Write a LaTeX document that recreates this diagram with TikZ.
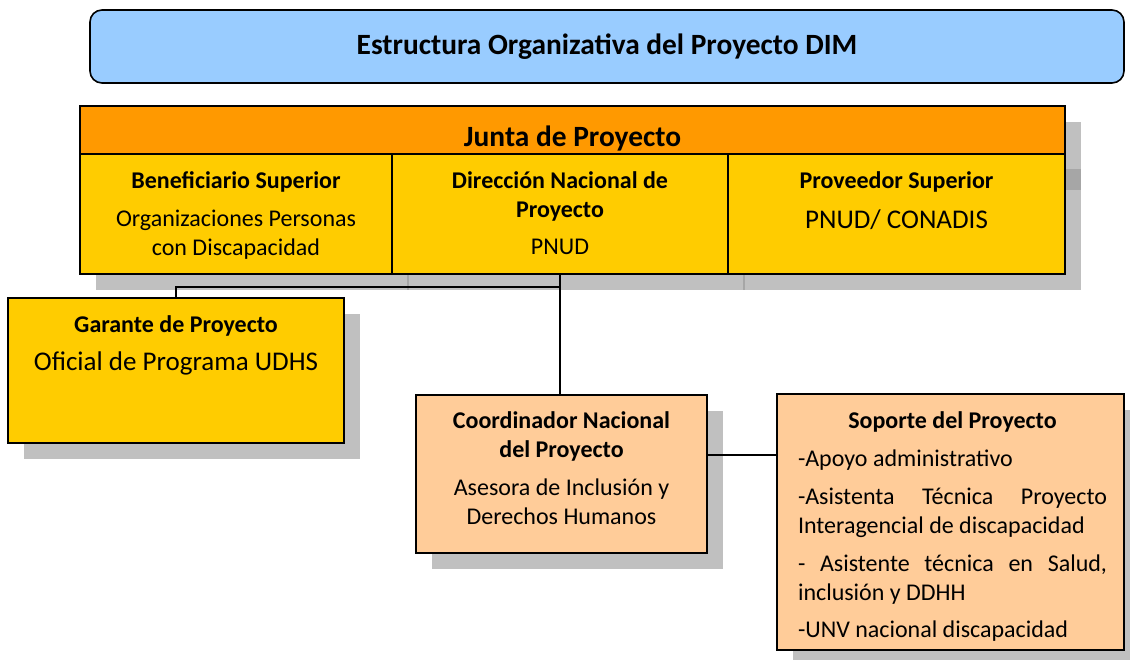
\documentclass[tikz,border=0pt]{standalone}
\usepackage{fontspec}
\setmainfont{Carlito}
\usepackage{xcolor}
\usepackage{tikz}
\usetikzlibrary{calc, positioning, backgrounds}

\definecolor{cieloazul}{HTML}{99CCFF}
\definecolor{naranja}{HTML}{FF9900}
\definecolor{amarillo}{HTML}{FFCC00}
\definecolor{durazno}{HTML}{FFCC99}
\definecolor{sombra}{HTML}{C0C0C0}
\definecolor{sombraosc}{HTML}{A6A6A6}

\newcommand{\normalt}{\fontsize{12}{14.5}\selectfont}
\newcommand{\grandet}{\fontsize{13.5}{16}\selectfont}
\newcommand{\titulot}{\fontsize{14.7}{17}\selectfont\bfseries}

\tikzset{
    caja/.style={draw, line width=0.8pt, anchor=north west, inner sep=0pt, outer sep=0pt},
    texto/.style={anchor=north, align=center, inner sep=0pt, font=\normalt},
    enlace/.style={draw, line width=0.8pt},
}

\begin{document}
\begin{tikzpicture}[x=0.5pt, y=-0.5pt]
    \useasboundingbox (0,0) rectangle (1130,659);

    % =================================================================
    % 1. CAJAS
    % =================================================================
    % Titulo general
    \node[caja, fill=cieloazul, rounded corners=6pt,
          minimum width=517pt, minimum height=36.5pt] (titulo) at (90,10) {};

    % Junta de Proyecto y sus tres celdas
    \node[caja, fill=naranja, minimum width=492.5pt, minimum height=24pt] (junta) at (80,106) {};
    \node[caja, fill=amarillo, minimum width=156pt, minimum height=60pt] (ben) at (junta.south west) {};
    \node[caja, fill=amarillo, minimum width=168pt, minimum height=60pt] (dir) at (ben.north east) {};
    \node[caja, fill=amarillo, minimum width=168.5pt, minimum height=60pt] (prov) at (dir.north east) {};

    % Garante, Coordinador y Soporte
    \node[caja, fill=amarillo, minimum width=168pt, minimum height=72.5pt] (garante) at (8,298) {};
    \node[caja, fill=durazno, minimum width=145.5pt, minimum height=79pt] (coord) at (416,395) {};
    \node[caja, fill=durazno, minimum width=173.5pt, minimum height=128pt] (soporte) at (777,394) {};

    % Sombras
    \begin{scope}[on background layer]
        \foreach \n in {junta, ben, dir, prov, garante, coord, soporte}
            \fill[sombra] ([shift={(16,16)}]\n.north west) rectangle ([shift={(16,16)}]\n.south east);
        \fill[sombraosc] ([shift={(0,15)}]prov.north east) rectangle ([shift={(16,36)}]prov.north east);
        \foreach \n in {ben, dir}
            \draw[sombraosc, line width=0.8pt] ([shift={(16,16)}]\n.north east) -- ([shift={(16,16)}]\n.south east);
    \end{scope}

    % =================================================================
    % 2. CONECTORES
    % =================================================================
    \coordinate (bus) at ($(dir.south)+(0,13)$);
    \draw[enlace] (dir.south) -- (dir.south |- coord.north);
    \draw[enlace] (garante.north) |- (bus);
    \coordinate (lazo) at ([shift={(0,-19)}]coord.east);
    \draw[enlace] (lazo) -- (lazo -| soporte.west);

    % =================================================================
    % 3. TEXTOS
    % =================================================================
    \node[font=\titulot] (titulotxt) at (titulo.center) {Estructura Organizativa del Proyecto DIM};
    \node[font=\titulot] (juntatxt) at ([shift={(0,8)}]junta.center) {Junta de Proyecto};

    \node[texto] (bentxt) at ([shift={(0,17)}]ben.north)
        {{\bfseries Beneficiario Superior}\\[4.5pt]
         Organizaciones Personas\\ con Discapacidad};
    \node[texto] (dirtxt) at ([shift={(0,17)}]dir.north)
        {{\bfseries Dirección Nacional de}\\ {\bfseries Proyecto}\\[4pt] PNUD};
    \node[texto] (provtxt) at ([shift={(0,17)}]prov.north)
        {{\bfseries Proveedor Superior}\\[5.5pt] {\grandet PNUD/ CONADIS}};

    \node[texto] (garantetxt) at ([shift={(0,17)}]garante.north)
        {{\bfseries Garante de Proyecto}\\[4.5pt] {\grandet Oficial de Programa UDHS}};
    \node[texto] (coordtxt) at ([shift={(0,16)}]coord.north)
        {{\bfseries Coordinador Nacional}\\ {\bfseries del Proyecto}\\[4.5pt]
         Asesora de Inclusión y\\ Derechos Humanos};

    \node[texto, align=left] (soportetxt) at ([shift={(2,17)}]soporte.north)
        {\makebox[154.5pt][c]{\bfseries Soporte del Proyecto}\\[4.5pt]
         -Apoyo administrativo\\[4.5pt]
         \makebox[154.5pt][s]{-Asistenta Técnica Proyecto}\\
         Interagencial de discapacidad\\[4.5pt]
         \makebox[154.5pt][s]{- Asistente técnica en Salud,}\\
         inclusión y DDHH\\[4pt]
         -UNV nacional discapacidad};

\end{tikzpicture}
\end{document}
